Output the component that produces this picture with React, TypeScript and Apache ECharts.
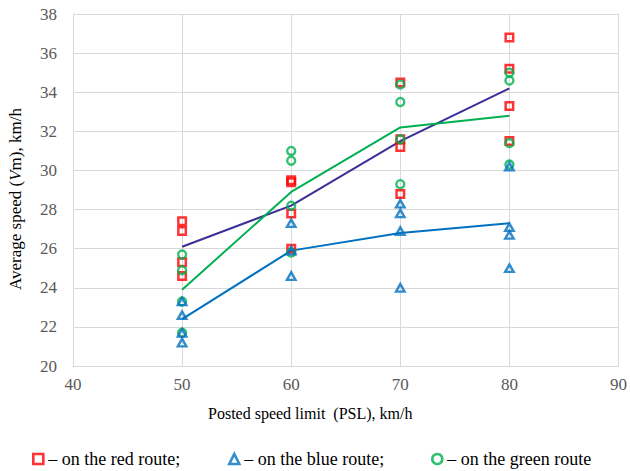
import React, { useEffect, useRef } from "react";
import * as echarts from "echarts";

const speedLimits = [50, 60, 70, 80];

const redRoute = [
  [27.4, 26.9, 25.3, 24.6],
  [29.5, 29.4, 27.8, 26.0],
  [34.5, 31.6, 31.2, 28.8],
  [36.8, 35.2, 33.3, 31.5],
];
const blueRoute = [
  [23.3, 22.6, 21.7, 21.2],
  [27.3, 25.9, 24.6],
  [28.3, 27.8, 26.9, 24.0],
  [30.2, 27.1, 26.7, 25.0],
];
const greenRoute = [
  [25.7, 24.9, 23.3, 21.7],
  [31.0, 30.5, 28.2, 25.8],
  [34.4, 33.5, 31.6, 29.3],
  [35.0, 34.6, 31.4, 30.3],
];

const redMean = [26.1, 28.2, 31.5, 34.2];
const blueMean = [22.4, 25.9, 26.8, 27.3];
const greenMean = [23.9, 28.9, 32.2, 32.8];

const legendNames = [
  "– on the red route;",
  "– on the blue route;",
  "– on the green route",
];

const FONT = "Liberation Serif";

function toPoints(groups: number[][]) {
  const out: number[][] = [];
  groups.forEach((g, i) => g.forEach((v) => out.push([speedLimits[i], v])));
  return out;
}

export default function App() {
  const ref = useRef<HTMLDivElement>(null);
  useEffect(() => {
    if (!ref.current) return;
    const chart = echarts.init(ref.current, null, { renderer: "svg" });
    const hollow = (c: string, w: number) => ({
      color: "rgba(255,255,255,0)",
      borderColor: c,
      borderWidth: w,
    });
    const colors = ["#FF0000", "#0070C0", "#00B050"];
    chart.setOption({
      animation: false,
      textStyle: { fontFamily: FONT },
      grid: { left: 73, right: 10, top: 14, bottom: 105 },
      xAxis: {
        type: "value",
        min: 40,
        max: 90,
        interval: 10,
        axisLine: { show: true, lineStyle: { color: "#D9D9D9" } },
        axisTick: { show: false },
        splitLine: { show: true, lineStyle: { color: "#D9D9D9" } },
        axisLabel: { color: "#595959", fontSize: 17, fontFamily: FONT, margin: 10 },
      },
      yAxis: {
        type: "value",
        min: 20,
        max: 38,
        interval: 2,
        axisLine: { show: true, lineStyle: { color: "#D9D9D9" } },
        axisTick: { show: false },
        splitLine: { show: true, lineStyle: { color: "#D9D9D9" } },
        axisLabel: { color: "#595959", fontSize: 17, fontFamily: FONT, margin: 16 },
      },
      legend: [0, 1, 2].map((i) => ({
        data: [
          {
            name: legendNames[i],
            itemStyle: {
              color: "rgba(255,255,255,0)",
              borderColor: colors[i],
              borderWidth: 2.6,
            },
          },
        ],
        left: [27, 223, 426][i],
        top: 445,
        itemWidth: 10,
        itemHeight: 10,
        itemGap: 4,
        textStyle: { fontSize: 18, color: "#000", fontFamily: FONT },
      })),
      graphic: [
        {
          type: "text",
          left: 208,
          top: 405,
          style: {
            text: "Posted speed limit  (PSL), km/h",
            fontSize: 16,
            fontFamily: FONT,
            fill: "#000",
          },
        },
        {
          type: "text",
          x: 15,
          y: 199,
          rotation: Math.PI / 2,
          style: {
            text: "{n|Average speed (}{i|V}{n|m), km/h}",
            rich: {
              n: { fontSize: 17, fontFamily: FONT, fill: "#000" },
              i: { fontSize: 17, fontFamily: FONT, fontStyle: "italic", fill: "#000" },
            },
            fontSize: 17,
            fontFamily: FONT,
            align: "center",
            verticalAlign: "middle",
          },
        },
      ],
      series: [
        {
          name: "red mean",
          type: "line",
          data: speedLimits.map((x, i) => [x, redMean[i]]),
          symbol: "none",
          lineStyle: { color: "#3A2F98", width: 2 },
          z: 1,
        },
        {
          name: "green mean",
          type: "line",
          data: speedLimits.map((x, i) => [x, greenMean[i]]),
          symbol: "none",
          lineStyle: { color: "#00B050", width: 2 },
          z: 1,
        },
        {
          name: "blue mean",
          type: "line",
          data: speedLimits.map((x, i) => [x, blueMean[i]]),
          symbol: "none",
          lineStyle: { color: "#0070C0", width: 2 },
          z: 1,
        },
        {
          name: legendNames[0],
          type: "scatter",
          data: toPoints(redRoute),
          symbol: "rect",
          symbolSize: 7.5,
          itemStyle: hollow(colors[0], 2.5),
          z: 2,
        },
        {
          name: legendNames[1],
          type: "scatter",
          data: toPoints(blueRoute),
          symbol: "triangle",
          symbolSize: [8.5, 7.5],
          itemStyle: hollow(colors[1], 2.4),
          z: 3,
        },
        {
          name: legendNames[2],
          type: "scatter",
          data: toPoints(greenRoute),
          symbol: "circle",
          symbolSize: 8,
          itemStyle: hollow(colors[2], 2.4),
          z: 2,
        },
      ],
    });
    return () => chart.dispose();
  }, []);
  return (
    <div
      ref={ref}
      style={{ position: "fixed", left: 0, top: 0, width: 630, height: 471, background: "#fff" }}
    />
  );
}
